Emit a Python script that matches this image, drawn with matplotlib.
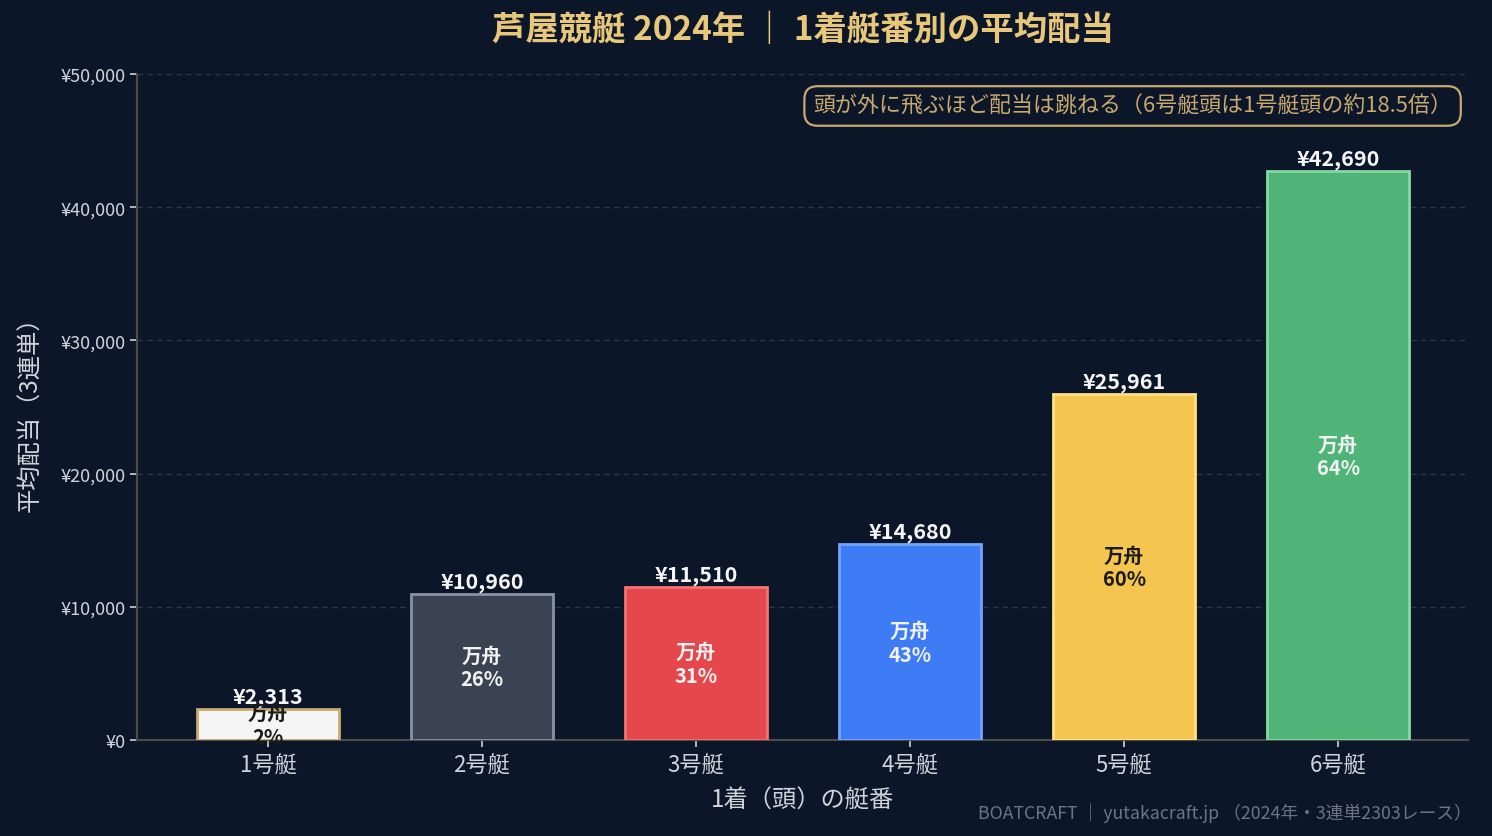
import matplotlib
matplotlib.use("Agg")
import matplotlib.pyplot as plt
from matplotlib.ticker import FuncFormatter, MultipleLocator

plt.rcParams['font.family'] = ['Noto Sans CJK JP', 'DejaVu Sans']

categories = ["1号艇", "2号艇", "3号艇", "4号艇", "5号艇", "6号艇"]
avg_payout = [2313, 10960, 11510, 14680, 25961, 42690]
manshu_pct = [2, 26, 31, 43, 60, 64]

face_colors = ["#f5f5f5", "#3a4351", "#e5474c", "#3e7cf6", "#f4c64f", "#4fb478"]
edge_colors = ["#c9a96e", "#8793a5", "#f27474", "#74a3ff", "#ffe08a", "#86d9a6"]
inner_text_colors = ["#1a1a1a", "#f2f2f2", "#f2f2f2", "#f2f2f2", "#1a1a1a", "#f2f2f2"]

BG = "#0b1628"
GOLD = "#e8c77a"

fig = plt.figure(figsize=(14.92, 8.37), dpi=100, facecolor=BG)
ax = fig.add_axes([137/1492, 1-741/837, (1468-137)/1492, (741-75)/837])
ax.set_facecolor(BG)

x = list(range(len(categories)))
bars = ax.bar(x, avg_payout, width=0.66, color=face_colors, edgecolor=edge_colors,
              linewidth=2, zorder=3)

for i, (b, v, p) in enumerate(zip(bars, avg_payout, manshu_pct)):
    ax.text(b.get_x() + b.get_width()/2, v + 150, f"¥{v:,}", ha="center", va="bottom",
            fontsize=15.5, fontweight="bold", color="#f5f5f5", zorder=5)
    ax.text(b.get_x() + b.get_width()/2, v/2, f"万舟\n{p}%", ha="center", va="center",
            fontsize=14.5, fontweight="bold", color=inner_text_colors[i], linespacing=1.15,
            zorder=5)

ax.set_xlim(-0.612, 5.607)
ax.set_ylim(0, 50000)
ax.yaxis.set_major_locator(MultipleLocator(10000))
ax.yaxis.set_major_formatter(FuncFormatter(lambda v, pos: f"¥{int(v):,}"))
ax.set_xticks(x)
ax.set_xticklabels(categories)

ax.grid(axis="y", linestyle=(0, (4, 3)), color="#2c3646", linewidth=1, zorder=0)
ax.set_axisbelow(True)

for s in ["top", "right"]:
    ax.spines[s].set_visible(False)
for s in ["left", "bottom"]:
    ax.spines[s].set_color("#4d4c44")
    ax.spines[s].set_linewidth(1.5)

ax.tick_params(axis="y", colors="#d0d4da", labelsize=13, length=5, width=1.2)
ax.tick_params(axis="x", colors="#d0d4da", labelsize=16, length=5, width=1.2, pad=4)
for t in ax.xaxis.get_ticklines():
    t.set_color("#111111")
for t in ax.yaxis.get_ticklines():
    t.set_color("#d0d4da")

ax.set_ylabel("平均配当（3連単）", fontsize=17.5, color="#d0d4da", labelpad=12)
ax.set_xlabel("1着（頭）の艇番", fontsize=17.5, color="#d0d4da", labelpad=8)

ax.text(0.5, 1 + (75-30)/666, "芦屋競艇 2024年 ｜ 1着艇番別の平均配当", transform=ax.transAxes,
        ha="center", va="center", fontsize=24, fontweight="bold", color=GOLD)

ax.text(0.988, 0.952, "頭が外に飛ぶほど配当は跳ねる（6号艇頭は1号艇頭の約18.5倍）",
        transform=ax.transAxes, ha="right", va="center", fontsize=15.8, color="#c9a96e",
        bbox=dict(boxstyle="round,pad=0.4,rounding_size=0.6", facecolor=BG,
                  edgecolor="#c9a96e", linewidth=1.6), zorder=6)

fig.text(1-20/1492, 1-813/837, "BOATCRAFT ｜ yutakacraft.jp （2024年・3連単2303レース）",
         ha="right", va="center", fontsize=12.8, color="#6b7482")

fig.savefig("out.png", dpi=100, facecolor=BG)
